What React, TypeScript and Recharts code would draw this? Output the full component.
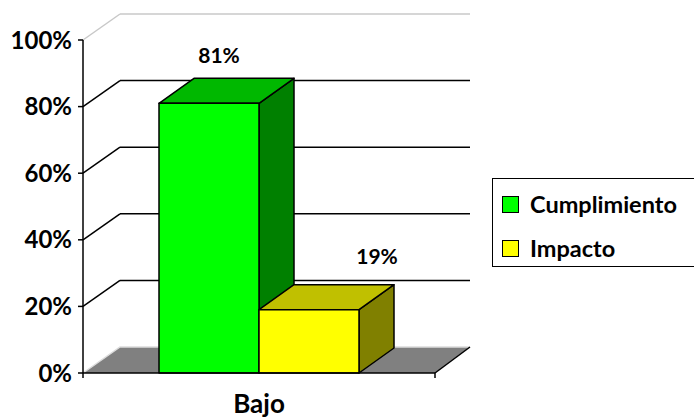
import React from 'react'
import { Bar, BarChart, CartesianGrid, LabelList, Legend, XAxis, YAxis } from 'recharts'

// ─── Data ──────────────────────────────────────────────────────────────────────
const categories = ['Bajo']
const cumplimiento = [0.81]
const impacto = [0.19]
const yTicks = [0, 0.2, 0.4, 0.6, 0.8, 1]

const data = categories.map((name, i) => ({
  name,
  cumplimiento: cumplimiento[i],
  impacto: impacto[i],
}))

const FONT = 'Lato, "Open Sans", sans-serif'
// depth offsets of the 3D walls and bars
const WALL = { dx: 37, dy: -26 }
const DEPTH = { dx: 35, dy: -25 }

const pct = (v: number) => `${Math.round(v * 100)}%`

// ─── 3D box used as bar shape ──────────────────────────────────────────────────
const Box3D = ({ x, y, width, height, front, top, side }: any) => {
  const { dx, dy } = DEPTH
  const r = x + width
  const b = y + height
  return (
    <g stroke="#000" strokeWidth={1.5} strokeLinejoin="round">
      <polygon points={`${r},${y} ${r + dx},${y + dy} ${r + dx},${b + dy} ${r},${b}`} fill={side} />
      <polygon points={`${x},${y} ${x + dx},${y + dy} ${r + dx},${y + dy} ${r},${y}`} fill={top} />
      <rect x={x} y={y} width={width} height={height} fill={front} />
    </g>
  )
}

const topLabel = (shiftX: number, shiftY: number) => (p: any) => (
  <text
    x={p.x + p.width / 2 + shiftX}
    y={p.y + DEPTH.dy + shiftY}
    textAnchor="middle"
    fontFamily={FONT}
    fontWeight={700}
    fontSize={21}
    fill="#000"
  >
    {pct(p.value)}
  </text>
)

// ─── Back wall / side wall / floor drawn from the grid lines ──────────────────
const WallLine = (p: any) => {
  const { x1, y1, x2 } = p
  const bottom = p.y + p.height
  const isFloor = Math.abs(y1 - bottom) < 0.5
  const isTop = Math.abs(y1 - p.y) < 0.5
  const bx = x1 + WALL.dx
  const by = y1 + WALL.dy
  const ex = x2 + WALL.dx - 2
  if (isFloor) {
    return (
      <g key={p.key}>
        <polygon points={`${x1},${y1} ${bx},${by} ${ex},${by} ${x2},${y1}`} fill="#808080" stroke="none" />
        <polyline points={`${x1},${y1} ${bx},${by} ${ex},${by}`} fill="none" stroke="#dcdcdc" strokeWidth={1.5} />
        <line x1={x2} y1={y1} x2={ex} y2={by} stroke="#000" strokeWidth={1.5} />
        <line x1={x1} y1={y1} x2={x1} y2={y1 + 5} stroke="#000" strokeWidth={1.5} />
        <line x1={x2} y1={y1} x2={x2} y2={y1 + 5} stroke="#000" strokeWidth={1.5} />
      </g>
    )
  }
  const color = isTop ? '#c8c8c8' : '#000'
  return (
    <g key={p.key} stroke={color} strokeWidth={1.5}>
      <line x1={x1} y1={y1} x2={bx} y2={by} />
      <line x1={bx} y1={by} x2={ex} y2={by} />
    </g>
  )
}

// ─── Legend ────────────────────────────────────────────────────────────────────
const LegendBox = ({ payload }: any) => (
  <div
    style={{
      border: '1.5px solid #000',
      padding: '5px 0 0 9px',
      width: 210,
      height: 89,
      boxSizing: 'border-box',
      fontFamily: FONT,
      fontWeight: 700,
      fontSize: 23.5,
      color: '#000',
      background: '#fff',
    }}
  >
    {(payload ?? []).map((entry: any, i: number) => (
      <div
        key={i}
        style={{ display: 'flex', alignItems: 'center', height: 40, marginBottom: 4 }}
      >
        <span
          style={{
            width: 17,
            height: 17,
            flexShrink: 0,
            boxSizing: 'border-box',
            border: '1.5px solid #000',
            background: entry.color,
            marginRight: 11,
          }}
        />
        {entry.value}
      </div>
    ))}
  </div>
)

export default function App() {
  return (
    <div
      style={{
        position: 'absolute',
        left: 0,
        top: 0,
        width: 694,
        height: 418,
        overflow: 'hidden',
        background: '#fff',
      }}
    >
      <BarChart
        width={694}
        height={418}
        data={data}
        margin={{ top: 40, right: 259, bottom: 0, left: 0 }}
        barCategoryGap={76}
        barGap={0}
      >
        <CartesianGrid horizontal={WallLine} vertical={false} />
        <XAxis
          dataKey="name"
          height={45}
          axisLine={{ stroke: '#000', strokeWidth: 1.5 }}
          tickLine={false}
          tickSize={5}
          tickMargin={17}
          tick={{ fontSize: 26, fontWeight: 700, fill: '#000', fontFamily: FONT }}
        />
        <YAxis
          width={83}
          domain={[0, 1]}
          ticks={yTicks}
          tickFormatter={pct}
          axisLine={{ stroke: '#000', strokeWidth: 1.5 }}
          tickLine={{ stroke: '#000', strokeWidth: 1.5 }}
          tickSize={5}
          tickMargin={6}
          tick={{ fontSize: 24, fontWeight: 700, fill: '#000', fontFamily: FONT }}
        />
        <Legend
          layout="horizontal"
          verticalAlign="middle"
          content={<LegendBox />}
          wrapperStyle={{ left: 492, top: 178, width: 210 }}
        />
        <Bar
          dataKey="cumplimiento"
          name="Cumplimiento"
          fill="#00ff00"
          isAnimationActive={false}
          shape={(p: any) => <Box3D {...p} front="#00ff00" top="#00b800" side="#008000" />}
        >
          <LabelList dataKey="cumplimiento" content={topLabel(10, -15)} />
        </Bar>
        <Bar
          dataKey="impacto"
          name="Impacto"
          fill="#ffff00"
          isAnimationActive={false}
          shape={(p: any) => <Box3D {...p} front="#ffff00" top="#c0c000" side="#808000" />}
        >
          <LabelList dataKey="impacto" content={topLabel(68, -21)} />
        </Bar>
      </BarChart>
    </div>
  )
}
